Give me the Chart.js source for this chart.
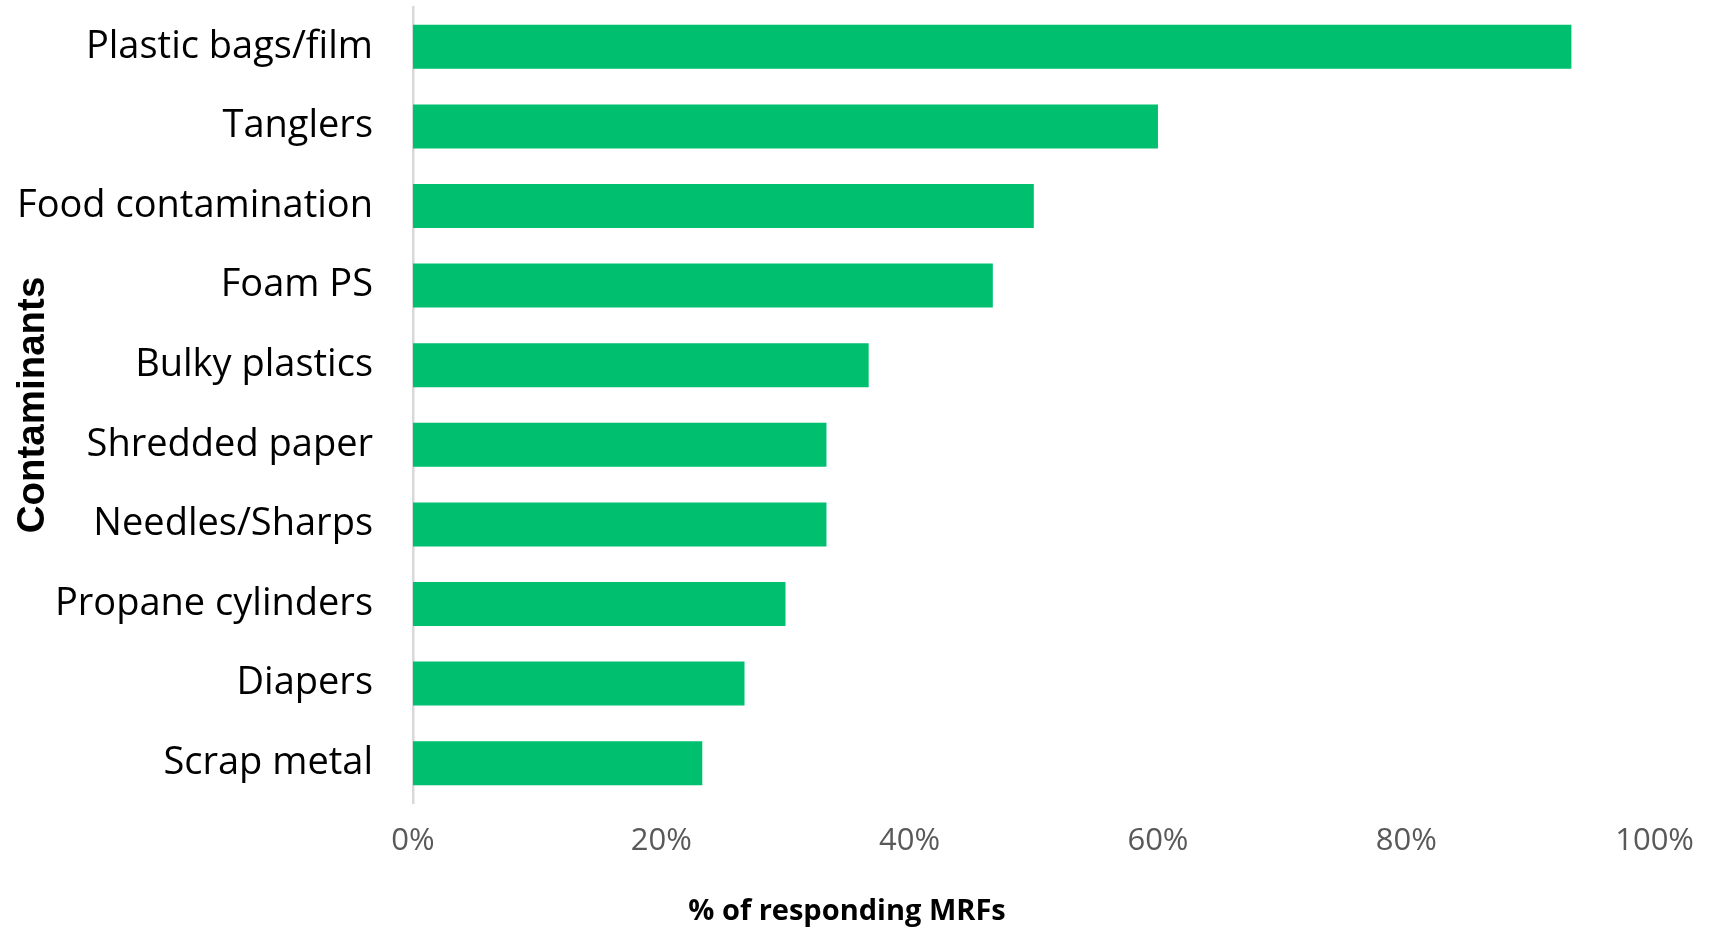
<!DOCTYPE html>
<html>
<head>
<meta charset="utf-8">
<title>Contaminants reported by MRFs</title>
<script src="https://cdn.jsdelivr.net/npm/chart.js@4"></script>
<style>
  html, body { margin: 0; padding: 0; background: #ffffff; }
  #wrap { position: relative; width: 1714px; height: 930px; }
</style>
</head>
<body>
<div id="wrap"><canvas id="chart"></canvas></div>
<script>
// Contaminant categories, top to bottom
const categories = [
  'Plastic bags/film',
  'Tanglers',
  'Food contamination',
  'Foam PS',
  'Bulky plastics',
  'Shredded paper',
  'Needles/Sharps',
  'Propane cylinders',
  'Diapers',
  'Scrap metal'
];

// Share of responding MRFs reporting each contaminant (%)
const sharePct = [93.3, 60, 50, 46.7, 36.7, 33.3, 33.3, 30, 26.7, 23.3];

// Percentage axis ticks
const xTicks = [0, 20, 40, 60, 80, 100];

const BAR_GREEN = '#00BF6F';

new Chart(document.getElementById('chart'), {
  type: 'bar',
  data: {
    labels: categories,
    datasets: [{
      data: sharePct,
      backgroundColor: BAR_GREEN,
      borderWidth: 0,
      categoryPercentage: 1,
      barPercentage: 0.553
    }]
  },
  options: {
    indexAxis: 'y',
    responsive: true,
    maintainAspectRatio: false,
    animation: false,
    layout: { padding: { top: 7, right: 20, bottom: 0, left: 0 } },
    plugins: {
      legend: { display: false },
      tooltip: { enabled: false },
      title: {
        display: true,
        position: 'bottom',
        text: '% of responding MRFs',
        color: '#000000',
        font: { family: '"Open Sans"', size: 29, weight: 'bold' },
        padding: { top: 14, bottom: 1 }
      }
    },
    scales: {
      x: {
        min: 0,
        max: 100,
        afterBuildTicks: (scale) => { scale.ticks = xTicks.map(v => ({ value: v })); },
        grid: { display: false, drawTicks: false, tickLength: 0 },
        border: { display: false },
        ticks: {
          padding: 20,
          color: '#595959',
          font: { family: '"Open Sans"', size: 31 },
          callback: (v) => v + '%'
        }
      },
      y: {
        afterFit: (scale) => {
          // fixed label column; the wide label gap should not push the plot down
          scale.width = 413;
          scale.paddingTop = 0;
          scale.paddingBottom = 0;
        },
        grid: { display: false, drawTicks: false, tickLength: 0 },
        border: { display: true, color: '#d9d9d9', width: 2.5 },
        ticks: {
          padding: 40,
          color: '#000000',
          font: { family: '"Open Sans"', size: 38 }
        },
        title: {
          display: true,
          text: 'Contaminants',
          color: '#000000',
          font: { family: '"Liberation Sans"', size: 38.5, weight: 'bold' },
          padding: { top: 10, bottom: 0 }
        }
      }
    }
  }
});
</script>
</body>
</html>
